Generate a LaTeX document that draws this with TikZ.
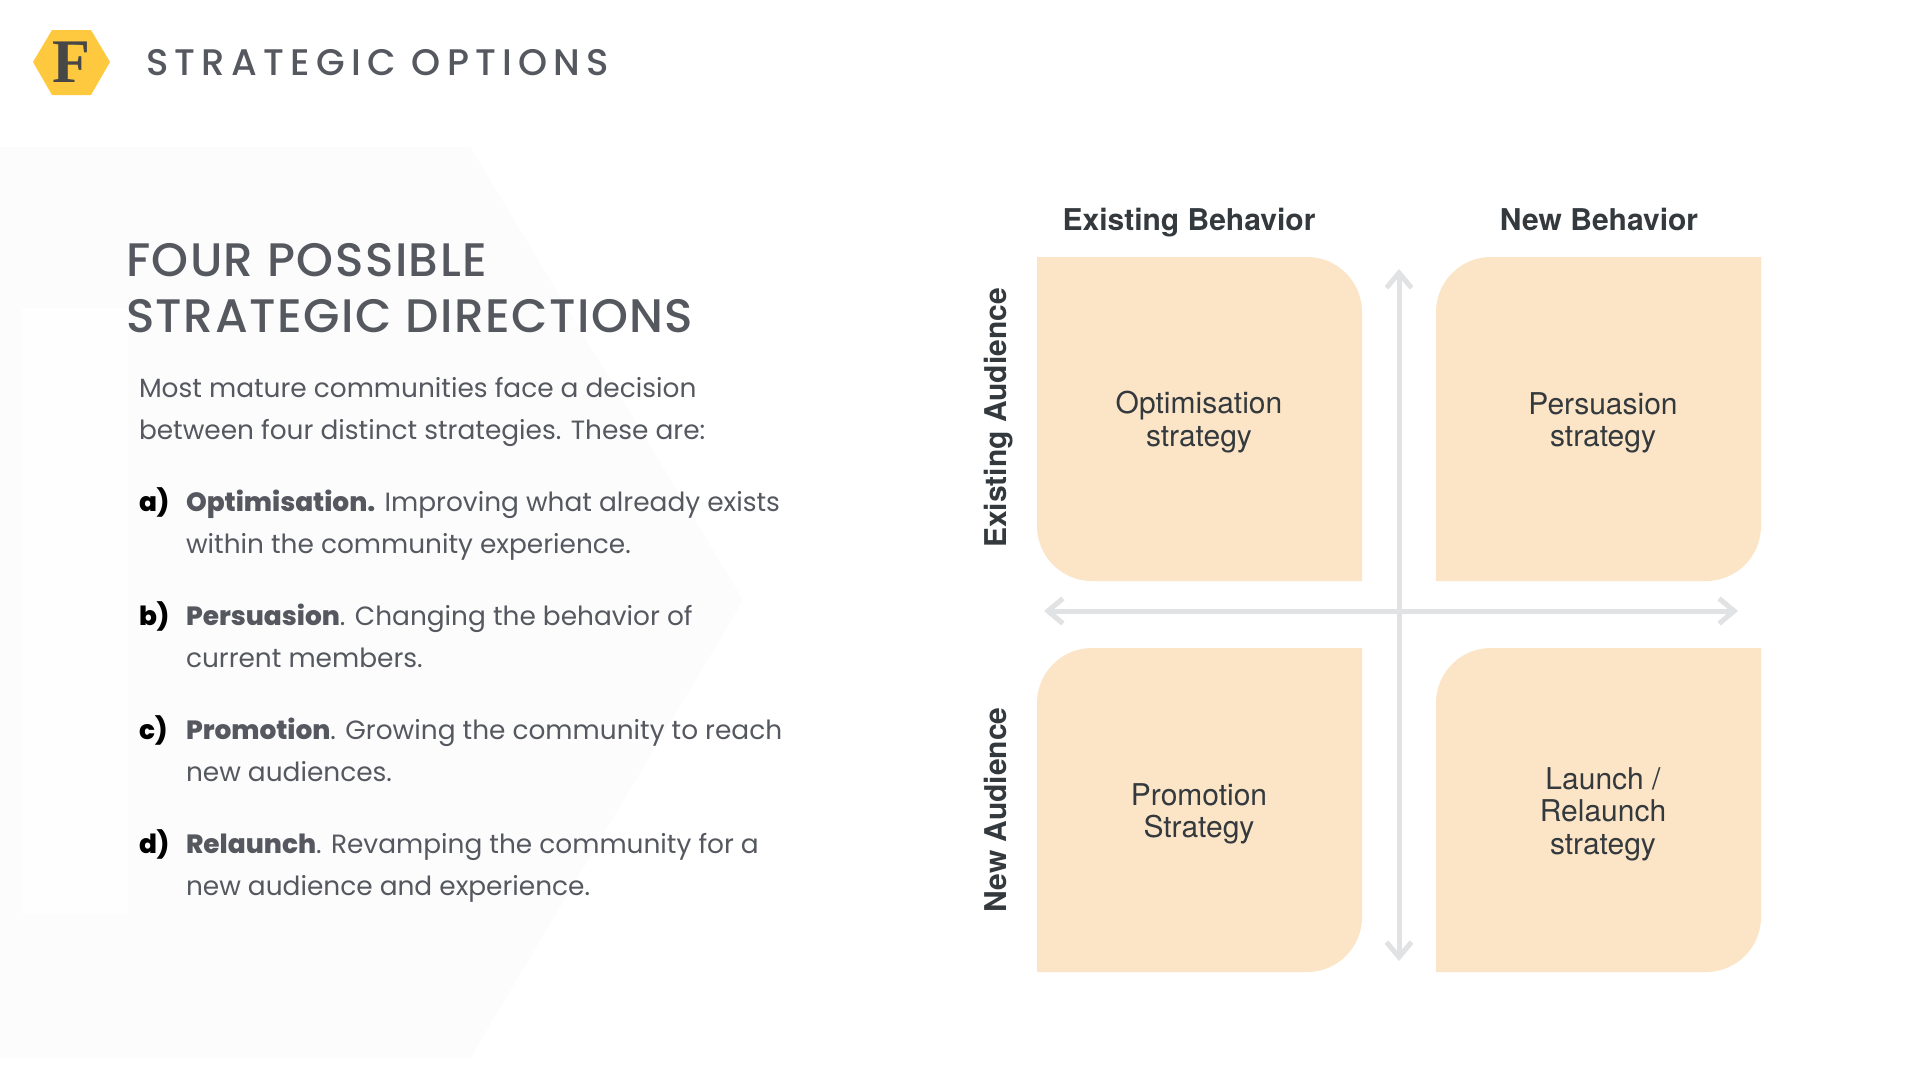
\documentclass[tikz,border=0pt]{standalone}
\usepackage{fontspec}
\usetikzlibrary{positioning,calc,arrows.meta}
\setmainfont{Poppins}[BoldFont={Poppins ExtraBold}]
\newfontfamily\headfont{Poppins Medium}
\newfontfamily\helv{TeX Gyre Heros}
\newfontfamily\logofont{Liberation Serif}
\definecolor{slate}{HTML}{55585F}
\definecolor{inkdark}{HTML}{33393D}
\definecolor{peach}{HTML}{FCE5C6}
\definecolor{axisgrey}{HTML}{E1E2E4}
\definecolor{honey}{HTML}{FEC93F}
\definecolor{ghost}{HTML}{FCFCFD}
\tikzset{
	every node/.style={inner sep=0pt, outer sep=0pt},
	body/.style={anchor=base west, align=left, text=slate, font=\fontsize{26.4}{41.8}\selectfont},
	tag/.style={anchor=base west, text=black, font=\fontsize{26.4}{41.8}\selectfont\bfseries},
	bigtitle/.style={anchor=base west, text=slate, font=\headfont\addfontfeature{LetterSpace=3.2}\fontsize{47}{56}\selectfont},
	head/.style={anchor=base, text=inkdark, font=\helv\fontsize{30}{32}\selectfont\bfseries},
	cell/.style={align=center, text=inkdark, font=\helv\fontsize{30}{32.5}\selectfont},
	quad/.style={fill=peach},
	axis/.style={draw=axisgrey, line width=5pt, {Straight Barb[length=15pt,width=25pt]}-{Straight Barb[length=15pt,width=25pt]}}
}
\begin{document}
\begin{tikzpicture}[x=1pt, y=-1pt]
	\useasboundingbox (0, 0) rectangle (1920, 1080);
	\fill[white] (0, 0) rectangle (1920, 1080);
	% backdrop
	\fill[ghost] (0, 147) -- (470, 147) -- (743, 600) -- (470, 1058) -- (0, 1058) -- cycle;
	\fill[white!60!ghost] (22, 308) rectangle (128, 914);
	% header
	\fill[honey] (33, 62) -- (52, 30) -- (91, 30) -- (110, 62) -- (91, 95) -- (52, 95) -- cycle;
	\node[text=black!72, font=\logofont\fontsize{62}{62}\selectfont\bfseries] (logo) at (71, 62) {F};
	\node[anchor=base west, text=slate, font=\headfont\addfontfeature{LetterSpace=17}\fontsize{37}{40}\selectfont] (pagetitle) at (146, 75) {STRATEGIC OPTIONS};
	% left column
	\node[bigtitle] (title1) at (126, 276) {FOUR POSSIBLE};
	\node[bigtitle] (title2) at (126, 332) {STRATEGIC DIRECTIONS};
	\node[body] (intro) at (139, 439) {Most mature communities face a decision\\between four distinct strategies. These are:};
	\node[tag] (taga) at (139, 511) {a)};
	\node[body] (itema) at (186, 553) {\textbf{Optimisation.} Improving what already exists\\within the community experience.};
	\node[tag] (tagb) at (139, 625) {b)};
	\node[body] (itemb) at (186, 667) {\textbf{Persuasion}. Changing the behavior of\\current members.};
	\node[tag] (tagc) at (139, 739) {c)};
	\node[body] (itemc) at (186, 781) {\textbf{Promotion}. Growing the community to reach\\new audiences.};
	\node[tag] (tagd) at (139, 853) {d)};
	\node[body] (itemd) at (186, 895) {\textbf{Relaunch}. Revamping the community for a\\new audience and experience.};
	% quadrants
	\fill[quad] (1037, 257) [rounded corners=55pt] -- (1362, 257) [sharp corners] -- (1362, 581) [rounded corners=55pt] -- (1037, 581) [sharp corners] -- cycle;
	\fill[quad] (1761, 257) [rounded corners=55pt] -- (1436, 257) [sharp corners] -- (1436, 581) [rounded corners=55pt] -- (1761, 581) [sharp corners] -- cycle;
	\fill[quad] (1037, 972) [rounded corners=55pt] -- (1037, 648) [sharp corners] -- (1362, 648) [rounded corners=55pt] -- (1362, 972) [sharp corners] -- cycle;
	\fill[quad] (1436, 972) [rounded corners=55pt] -- (1436, 648) [sharp corners] -- (1761, 648) [rounded corners=55pt] -- (1761, 972) [sharp corners] -- cycle;
	\node[cell] (optim) at (1199, 422) {Optimisation\\strategy};
	\node[cell] (persu) at (1603, 423) {Persuasion\\strategy};
	\node[cell] (promo) at (1199, 814) {Promotion\\Strategy};
	\node[cell] (launch) at (1603, 814) {Launch /\\Relaunch\\strategy};
	% axis labels
	\node[head] (exbeh) at (1189, 230) {Existing Behavior};
	\node[head] (newbeh) at (1599, 230) {New Behavior};
	\node[head, rotate=90] (exaud) at (1006, 418) {Existing Audience};
	\node[head, rotate=90] (newaud) at (1006, 810) {New Audience};
	% axes
	\coordinate (vtop) at (1399, 269);
	\coordinate (vbot) at (1399, 961);
	\coordinate (hleft) at (1044, 611);
	\coordinate (hright) at (1738, 611);
	\draw[axis] (vbot) -- (vtop);
	\draw[axis] (hleft) -- (hright);
\end{tikzpicture}
\end{document}
